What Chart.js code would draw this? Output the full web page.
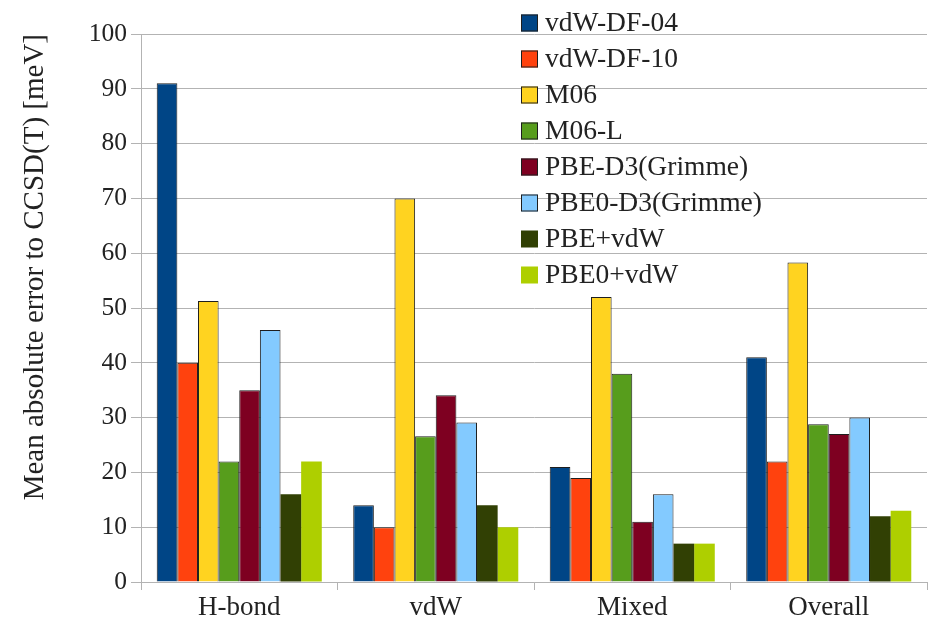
<!DOCTYPE html>
<html>
<head>
<meta charset="utf-8">
<script src="https://cdn.jsdelivr.net/npm/chart.js@4.4.1/dist/chart.umd.min.js"></script>
<style>
  html, body { margin: 0; padding: 0; background: #fff; }
  #wrap { width: 932px; height: 621px; position: relative; }
</style>
</head>
<body>
<div id="wrap"><canvas id="mae"></canvas></div>
<script>
// categories and values (meV)
const categories = ['H-bond', 'vdW', 'Mixed', 'Overall'];
const methods = ['vdW-DF-04', 'vdW-DF-10', 'M06', 'M06-L', 'PBE-D3(Grimme)', 'PBE0-D3(Grimme)', 'PBE+vdW', 'PBE0+vdW'];
const vdwDf04 = [91, 14, 21, 41];
const vdwDf10 = [40, 10, 19, 22];
const m06 = [51.3, 70, 52, 58.3];
const m06L = [22, 26.6, 38, 28.8];
const pbeD3 = [35, 34.1, 11, 27];
const pbe0D3 = [46, 29.1, 16, 30];
const pbeVdw = [16, 14, 7, 12];
const pbe0Vdw = [22, 10, 7, 13];
const yTicks = [0, 10, 20, 30, 40, 50, 60, 70, 80, 90, 100];

const colors = ['#004586', '#ff420e', '#ffd320', '#579d1c', '#7e0021', '#83caff', '#314004', '#aecf00'];
const edged = [true, true, true, true, true, true, false, false];
const serif = '"Liberation Serif", "Times New Roman", serif';
const gridGrey = '#b3b3b3';

var series = [vdwDf04, vdwDf10, m06, m06L, pbeD3, pbe0D3, pbeVdw, pbe0Vdw];
var datasets = series.map((vals, i) => ({
    label: methods[i],
    data: vals,
    backgroundColor: colors[i],
    borderColor: '#1e1e1e',
    borderWidth: edged[i] ? 1 : 0,
    borderSkipped: 'bottom'
}));

// legend sits inside the plot, top right, drawn over the grid
const insideLegend = {
    id: 'insideLegend',
    afterDatasetsDraw(chart) {
        const ctx = chart.ctx;
        ctx.save();
        ctx.font = '27.5px ' + serif;
        ctx.textBaseline = 'middle';
        ctx.textAlign = 'left';
        chart.data.datasets.forEach((ds, i) => {
            const y = 23 + i * 36;
            ctx.fillStyle = ds.backgroundColor;
            ctx.fillRect(521, y - 8.5, 17, 17);
            if (ds.borderWidth) {
                ctx.strokeStyle = '#1e1e1e';
                ctx.lineWidth = 1;
                ctx.strokeRect(521.5, y - 8, 16, 16);
            }
            ctx.fillStyle = '#222';
            ctx.fillText(ds.label, 545, y + 1);
        });
        ctx.restore();
    }
};

var chart = new Chart(document.getElementById('mae'), {
    type: 'bar',
    data: { labels: categories, datasets: datasets },
    options: {
        responsive: true,
        maintainAspectRatio: false,
        animation: false,
        layout: { padding: { top: 34, right: 5, left: 0, bottom: 0 } },
        plugins: {
            legend: { display: false },
            tooltip: { enabled: false }
        },
        datasets: {
            bar: { barPercentage: 1.0, categoryPercentage: 0.84 }
        },
        scales: {
            x: {
                grid: {
                    offset: true,
                    drawOnChartArea: true,
                    color: (c) => c.index === categories.length ? gridGrey : 'rgba(0,0,0,0)',
                    tickColor: gridGrey,
                    tickLength: 8
                },
                border: { color: gridGrey },
                ticks: {
                    color: '#222',
                    font: { family: serif, size: 27 },
                    padding: 2
                },
                afterFit: (s) => { s.height = 39; }
            },
            y: {
                min: 0,
                max: 100,
                afterBuildTicks: (s) => { s.ticks = yTicks.map(v => ({ value: v })); },
                grid: { color: gridGrey, tickColor: gridGrey, tickLength: 10 },
                border: { color: gridGrey },
                ticks: {
                    color: '#222',
                    font: { family: serif, size: 25.5 },
                    padding: 4
                },
                title: {
                    display: true,
                    text: 'Mean absolute error to CCSD(T) [meV]',
                    align: 'end',
                    color: '#222',
                    font: { family: serif, size: 29 },
                    padding: { top: 18, bottom: 0 }
                },
                afterFit: (s) => { s.width = 141; }
            }
        }
    },
    plugins: [insideLegend]
});
</script>
</body>
</html>
